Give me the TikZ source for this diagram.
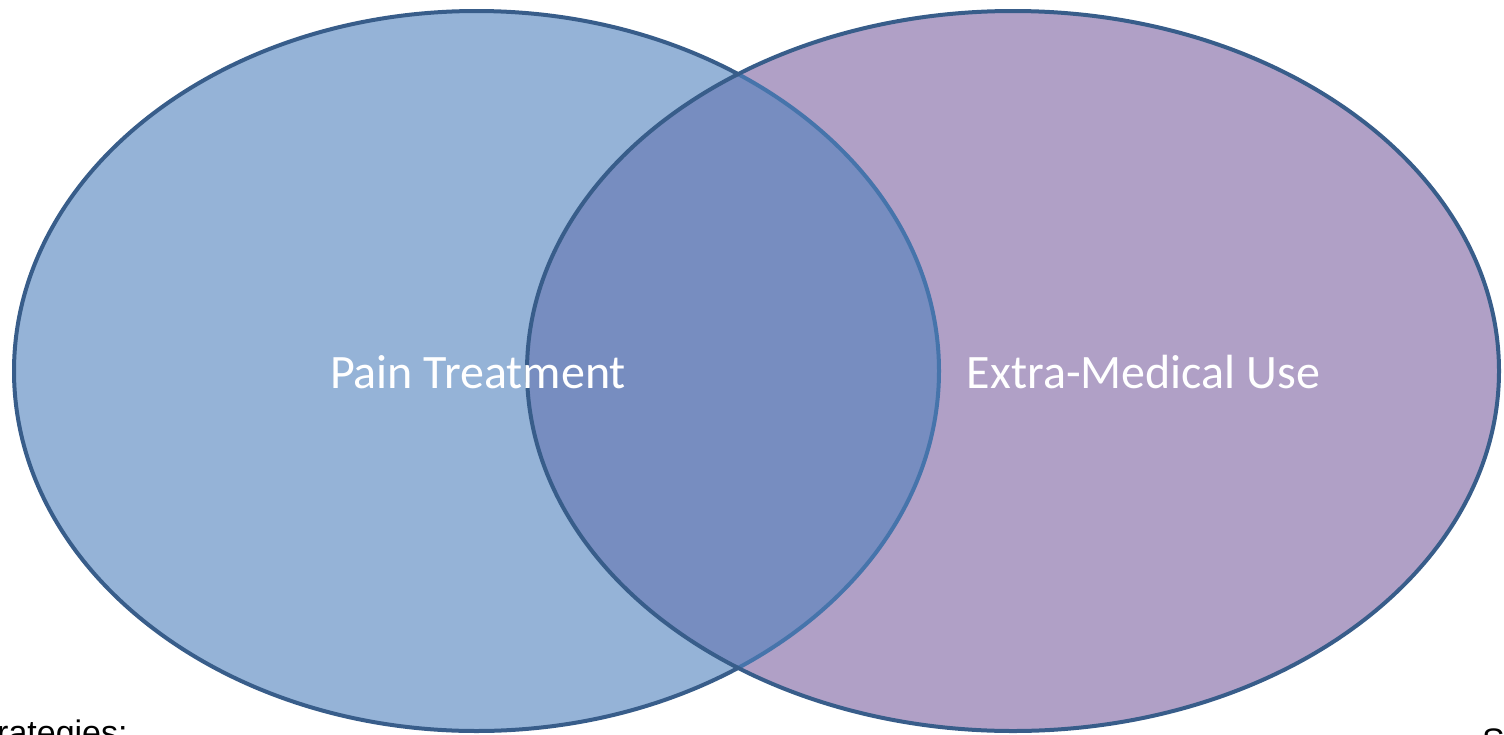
\documentclass[tikz,border=0pt]{standalone}
\usepackage{fontspec}
\setmainfont{Carlito}
\newfontfamily\arialfont{Liberation Sans}
\definecolor{lfill}{HTML}{95B3D7}
\definecolor{rfill}{HTML}{B0A0C6}
\definecolor{ifill}{HTML}{778DC0}
\definecolor{bdark}{HTML}{385D8A}
\definecolor{blight}{HTML}{4674AB}
\tikzset{
  border/.style={draw=bdark,line width=4pt},
  innerborder/.style={draw=blight,line width=4pt},
  lbl/.style={text=white,font=\fontsize{48}{52}\selectfont,anchor=base,inner sep=0pt},
  cut/.style={text=black,font=\arialfont\fontsize{34}{40}\selectfont,anchor=base west,inner sep=0pt}
}
\def\Lell{(476.5,371) ellipse [x radius=462.5pt, y radius=360pt]}
\def\Rell{(1013,371) ellipse [x radius=486pt, y radius=360pt]}
\begin{document}
\begin{tikzpicture}[x=1pt,y=-1pt]
\useasboundingbox (0,0) rectangle (1504,734);
% left set
\fill[lfill] \Lell;
\draw[border] \Lell;
% right set
\fill[rfill] \Rell;
\begin{scope}
  \clip \Lell;
  \fill[ifill] \Rell;
\end{scope}
\begin{scope}
  \clip \Rell;
  \draw[innerborder] \Lell;
\end{scope}
\draw[border] \Rell;
% labels
\node[lbl] (pain) at (478,388) {Pain Treatment};
\node[lbl] (extra) at (1143.5,388) {Extra-Medical Use};
\node[cut] (strat) at (-3,744) {rategies:};
\node[cut] (s) at (1482,752) {S};
\end{tikzpicture}
\end{document}
